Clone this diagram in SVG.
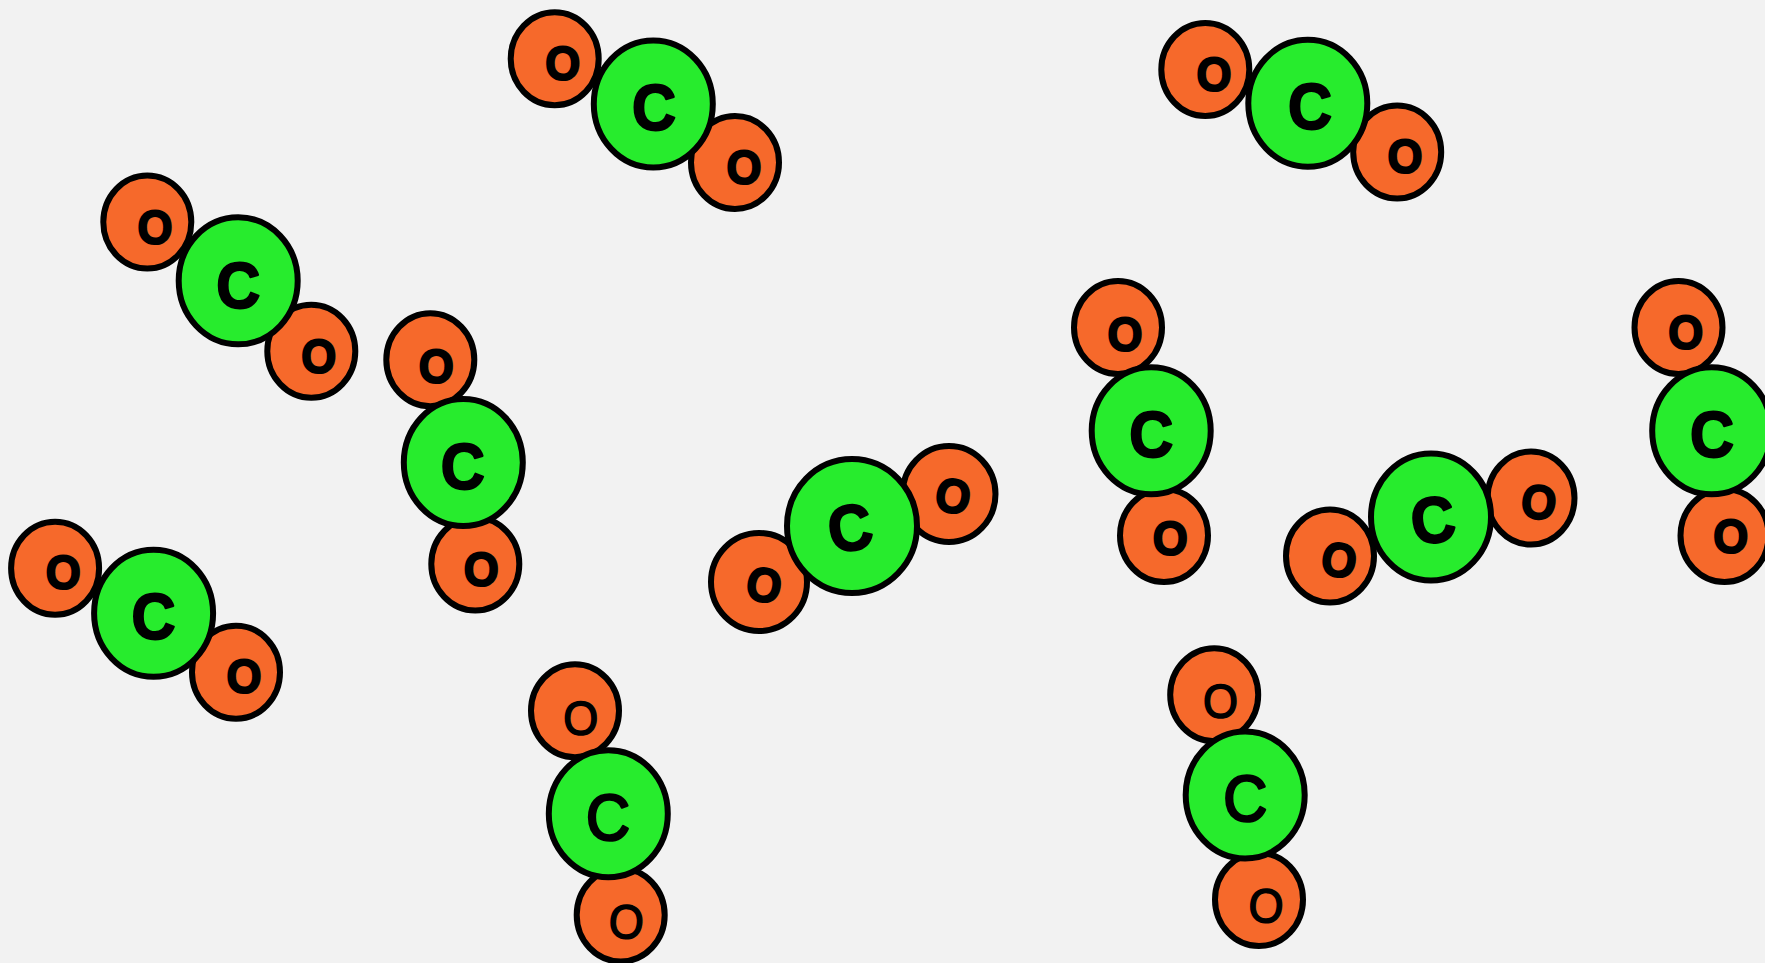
<svg xmlns="http://www.w3.org/2000/svg" width="1765" height="963" viewBox="0 0 1765 963">
<style>
.o{fill:#f6692b;stroke:#000;stroke-width:6}
.c{fill:#27ec2d;stroke:#000;stroke-width:6}
text{font-family:"Liberation Sans",Arial,sans-serif;text-anchor:middle;fill:#000;stroke:#000;stroke-width:2;stroke-linejoin:round;font-weight:bold}
.lo{font-size:45px}
.lc{font-size:61px}
.thin text{font-weight:normal;stroke-width:1.5}
.thin text.lc{stroke-width:2.5}
</style>
<rect width="1765" height="963" fill="#f2f2f2"/>
<g id="molecule1">
<g id="m1-o1"><ellipse class="o" cx="554.7" cy="58.7" rx="44" ry="46.5"/><text class="lo" x="0" y="15.6" transform="translate(562.7 63.3) scale(1 1.06)">O</text></g>
<g id="m1-o2"><ellipse class="o" cx="735" cy="162.5" rx="44" ry="46.5"/><text class="lo" x="0" y="15.6" transform="translate(744 167) scale(1 1.06)">O</text></g>
<g id="m1-c"><ellipse class="c" cx="653.3" cy="104" rx="59.5" ry="63.5"/><text class="lc" x="0" y="21.1" transform="translate(654 108) scale(1 1.06)">C</text></g>
</g>
<g id="molecule2">
<g id="m2-o1"><ellipse class="o" cx="1205.3" cy="69.5" rx="44" ry="46.5"/><text class="lo" x="0" y="15.6" transform="translate(1214 74.3) scale(1 1.06)">O</text></g>
<g id="m2-o2"><ellipse class="o" cx="1397.2" cy="152" rx="44" ry="46.5"/><text class="lo" x="0" y="15.6" transform="translate(1405 156.7) scale(1 1.06)">O</text></g>
<g id="m2-c"><ellipse class="c" cx="1307.8" cy="103.3" rx="59.5" ry="63.5"/><text class="lc" x="0" y="21.1" transform="translate(1310 107) scale(1 1.06)">C</text></g>
</g>
<g id="molecule3">
<g id="m3-o1"><ellipse class="o" cx="147.3" cy="222" rx="44" ry="46.5"/><text class="lo" x="0" y="15.6" transform="translate(155 227.5) scale(1 1.06)">O</text></g>
<g id="m3-o2"><ellipse class="o" cx="311.3" cy="351.2" rx="44" ry="46.5"/><text class="lo" x="0" y="15.6" transform="translate(318.7 356.2) scale(1 1.06)">O</text></g>
<g id="m3-c"><ellipse class="c" cx="238.2" cy="280.8" rx="59.5" ry="63.5"/><text class="lc" x="0" y="21.1" transform="translate(238.3 285.3) scale(1 1.06)">C</text></g>
</g>
<g id="molecule4">
<g id="m4-o1"><ellipse class="o" cx="430.3" cy="359.8" rx="44" ry="46.5"/><text class="lo" x="0" y="15.6" transform="translate(436.3 366.3) scale(1 1.06)">O</text></g>
<g id="m4-o2"><ellipse class="o" cx="475.3" cy="564" rx="44" ry="46.5"/><text class="lo" x="0" y="15.6" transform="translate(481.3 569.7) scale(1 1.06)">O</text></g>
<g id="m4-c"><ellipse class="c" cx="463.3" cy="462.5" rx="59.5" ry="63.5"/><text class="lc" x="0" y="21.1" transform="translate(462.8 466.2) scale(1 1.06)">C</text></g>
</g>
<g id="molecule5">
<g id="m5-o1"><ellipse class="o" cx="55.1" cy="568.3" rx="44" ry="46.5"/><text class="lo" x="0" y="15.6" transform="translate(63.3 572.7) scale(1 1.06)">O</text></g>
<g id="m5-o2"><ellipse class="o" cx="236" cy="672.2" rx="44" ry="46.5"/><text class="lo" x="0" y="15.6" transform="translate(243.9 676.7) scale(1 1.06)">O</text></g>
<g id="m5-c"><ellipse class="c" cx="153.6" cy="613.3" rx="59.5" ry="63.5"/><text class="lc" x="0" y="21.1" transform="translate(153.6 617) scale(1 1.06)">C</text></g>
</g>
<g id="molecule6">
<g id="m6-o1"><ellipse class="o" cx="1118" cy="327.5" rx="44" ry="46.5"/><text class="lo" x="0" y="15.6" transform="translate(1125 334.2) scale(1 1.06)">O</text></g>
<g id="m6-o2"><ellipse class="o" cx="1164" cy="535.5" rx="44" ry="46.5"/><text class="lo" x="0" y="15.6" transform="translate(1170.3 538) scale(1 1.06)">O</text></g>
<g id="m6-c"><ellipse class="c" cx="1151.2" cy="430.8" rx="59.5" ry="63.5"/><text class="lc" x="0" y="21.1" transform="translate(1151.2 434.5) scale(1 1.06)">C</text></g>
</g>
<g id="molecule7">
<g id="m7-o1"><ellipse class="o" cx="1678.5" cy="327.5" rx="44" ry="46.5"/><text class="lo" x="0" y="15.6" transform="translate(1685.8 332.8) scale(1 1.06)">O</text></g>
<g id="m7-o2"><ellipse class="o" cx="1724.5" cy="535.5" rx="44" ry="46.5"/><text class="lo" x="0" y="15.6" transform="translate(1730.8 536.3) scale(1 1.06)">O</text></g>
<g id="m7-c"><ellipse class="c" cx="1711.7" cy="430.8" rx="59.5" ry="63.5"/><text class="lc" x="0" y="21.1" transform="translate(1712 434.5) scale(1 1.06)">C</text></g>
</g>
<g id="molecule8">
<g id="m8-o1"><ellipse class="o" cx="759" cy="582" rx="48" ry="49"/><text class="lo" x="0" y="15.6" transform="translate(764 585) rotate(10) scale(1 1.06)">O</text></g>
<g id="m8-o2"><ellipse class="o" cx="949" cy="494" rx="46.5" ry="48"/><text class="lo" x="0" y="15.6" transform="translate(953 496) rotate(10) scale(1 1.06)">O</text></g>
<g id="m8-c"><ellipse class="c" cx="852" cy="526" rx="65" ry="67"/><text class="lc" x="0" y="21.1" transform="translate(850 528) rotate(-10) scale(1 1.06)">C</text></g>
</g>
<g id="molecule9">
<g id="m9-o1"><ellipse class="o" cx="1330" cy="556" rx="44" ry="46.5"/><text class="lo" x="0" y="15.6" transform="translate(1339 560) rotate(10) scale(1 1.06)">O</text></g>
<g id="m9-o2"><ellipse class="o" cx="1531" cy="498" rx="43.5" ry="46.5"/><text class="lo" x="0" y="15.6" transform="translate(1539 502) rotate(8) scale(1 1.06)">O</text></g>
<g id="m9-c"><ellipse class="c" cx="1431" cy="517" rx="60" ry="63.5"/><text class="lc" x="0" y="21.1" transform="translate(1433 520) rotate(-8) scale(1 1.06)">C</text></g>
</g>
<g id="molecule10" class="thin">
<g id="m10-o1"><ellipse class="o" cx="575" cy="710.8" rx="44" ry="46.5"/><text class="lo" x="0" y="15.6" transform="translate(580.8 718.2) scale(1 1.06)">O</text></g>
<g id="m10-o2"><ellipse class="o" cx="620.7" cy="915" rx="44" ry="46.5"/><text class="lo" x="0" y="15.6" transform="translate(626.3 921.7) rotate(4) scale(1 1.06)">O</text></g>
<g id="m10-c"><ellipse class="c" cx="608.3" cy="813.7" rx="59.5" ry="63.5"/><text class="lc" x="0" y="21.1" transform="translate(608 818) scale(1 1.06)">C</text></g>
</g>
<g id="molecule11" class="thin">
<g id="m11-o1"><ellipse class="o" cx="1214.2" cy="694.7" rx="44" ry="46.5"/><text class="lo" x="0" y="15.6" transform="translate(1220.6 701.3) scale(1 1.06)">O</text></g>
<g id="m11-o2"><ellipse class="o" cx="1259" cy="899.5" rx="44" ry="46.5"/><text class="lo" x="0" y="15.6" transform="translate(1266.2 905.7) rotate(4) scale(1 1.06)">O</text></g>
<g id="m11-c"><ellipse class="c" cx="1245.2" cy="795" rx="59.5" ry="63.5"/><text class="lc" x="0" y="21.1" transform="translate(1245.2 798.7) scale(1 1.06)">C</text></g>
</g>
<g id="connectors"/>
</svg>
